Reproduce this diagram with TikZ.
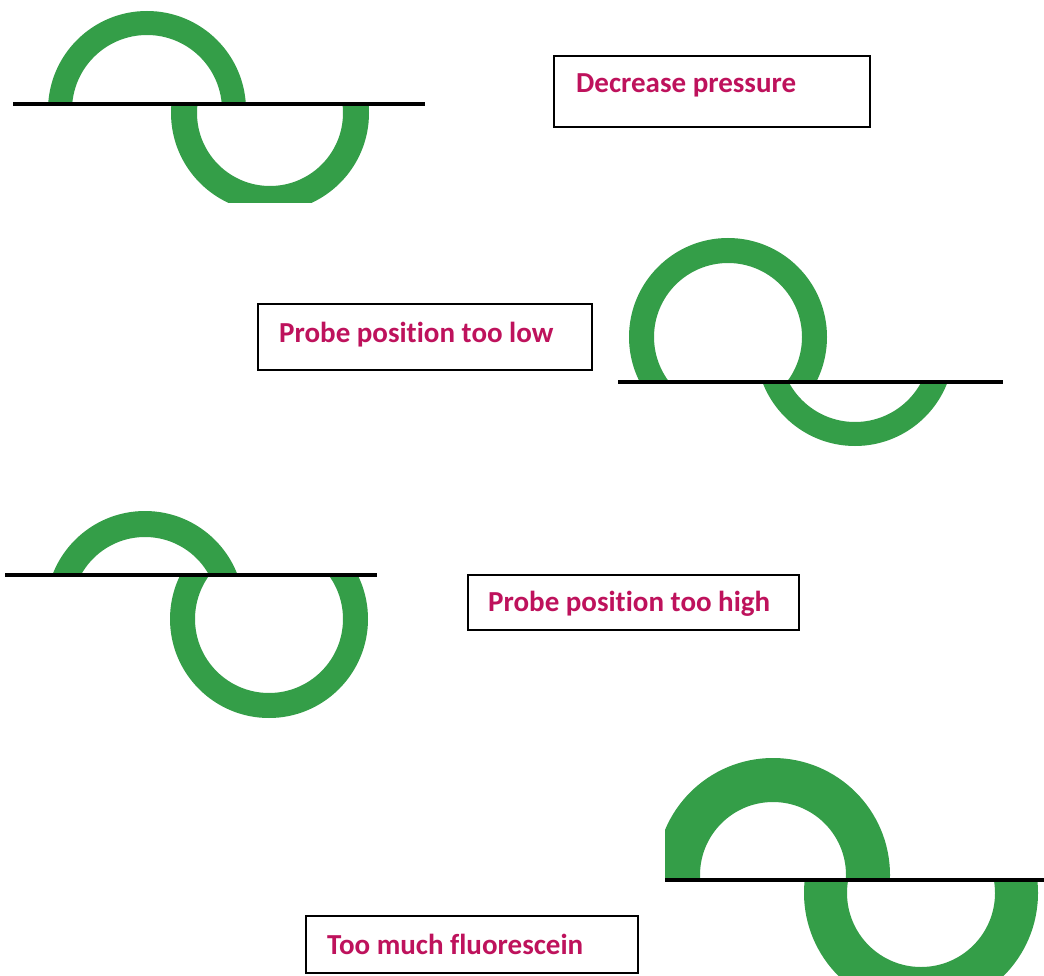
\documentclass[tikz,border=0pt]{standalone}
\usepackage{fontspec}
\setmainfont{Carlito}[Ligatures=NoCommon]
\definecolor{ringgreen}{RGB}{52,158,72}
\definecolor{labelred}{RGB}{190,18,92}
% one half of a ring: centre, outer radius, inner radius, clip rectangle corners
\newcommand\halfring[5]{%
  \begin{scope}
    \clip #4 rectangle #5;
    \fill[ring] #1 circle (#2pt) #1 circle (#3pt);
  \end{scope}}
\begin{document}
\begin{tikzpicture}[x=1pt,y=-1pt,
  ring/.style={fill=ringgreen, even odd rule},
  axisline/.style={line width=4pt, draw=black},
  box/.style={draw=black, line width=1.8pt, inner sep=0pt, anchor=north west},
  labeltext/.style={text=labelred, font=\fontsize{29}{34}\selectfont\bfseries,
    anchor=base west, inner sep=0pt}]
\useasboundingbox (0,0) rectangle (1044,976);
\fill[white] (0,0) rectangle (1044,976);

% --- first pair of rings
\halfring{(147,110)}{99}{75}{(0,0)}{(440,104)}
\halfring{(270,113)}{99}{73}{(0,104)}{(440,203)}
\coordinate (l1a) at (13,104);
\coordinate (l1b) at (425,104);
\draw[axisline] (l1a) -- (l1b);

% --- second pair of rings
\halfring{(728,337)}{99}{74}{(600,220)}{(1044,382)}
\halfring{(855,347)}{99}{75}{(600,382)}{(1044,460)}
\coordinate (l2a) at (618,382);
\coordinate (l2b) at (1003,382);
\draw[axisline] (l2a) -- (l2b);

% --- third pair of rings
\halfring{(145,610)}{99}{73}{(0,490)}{(400,575)}
\halfring{(269,619)}{99}{74}{(0,575)}{(400,740)}
\coordinate (l3a) at (5,575);
\coordinate (l3b) at (377,575);
\draw[axisline] (l3a) -- (l3b);

% --- fourth pair of rings (thicker)
\halfring{(773,875)}{117}{73}{(665,740)}{(1044,880)}
\halfring{(921,893)}{117}{74}{(665,880)}{(1044,976)}
\coordinate (l4a) at (665,880);
\coordinate (l4b) at (1044,880);
\draw[axisline] (l4a) -- (l4b);

% --- labelled boxes
\node[box, minimum width=316pt, minimum height=71pt] (b1) at (553,55) {};
\node[labeltext] (t1) at (576,93) {Decrease pressure};

\node[box, minimum width=334pt, minimum height=66pt] (b2) at (257,303) {};
\node[labeltext] (t2) at (279,342) {Probe position too low};

\node[box, minimum width=331pt, minimum height=55pt] (b3) at (467,574) {};
\node[labeltext] (t3) at (488,611) {Probe position too high};

\node[box, minimum width=332pt, minimum height=57pt] (b4) at (305,915) {};
\node[labeltext] (t4) at (327,954) {Too much fluorescein};
\end{tikzpicture}
\end{document}
